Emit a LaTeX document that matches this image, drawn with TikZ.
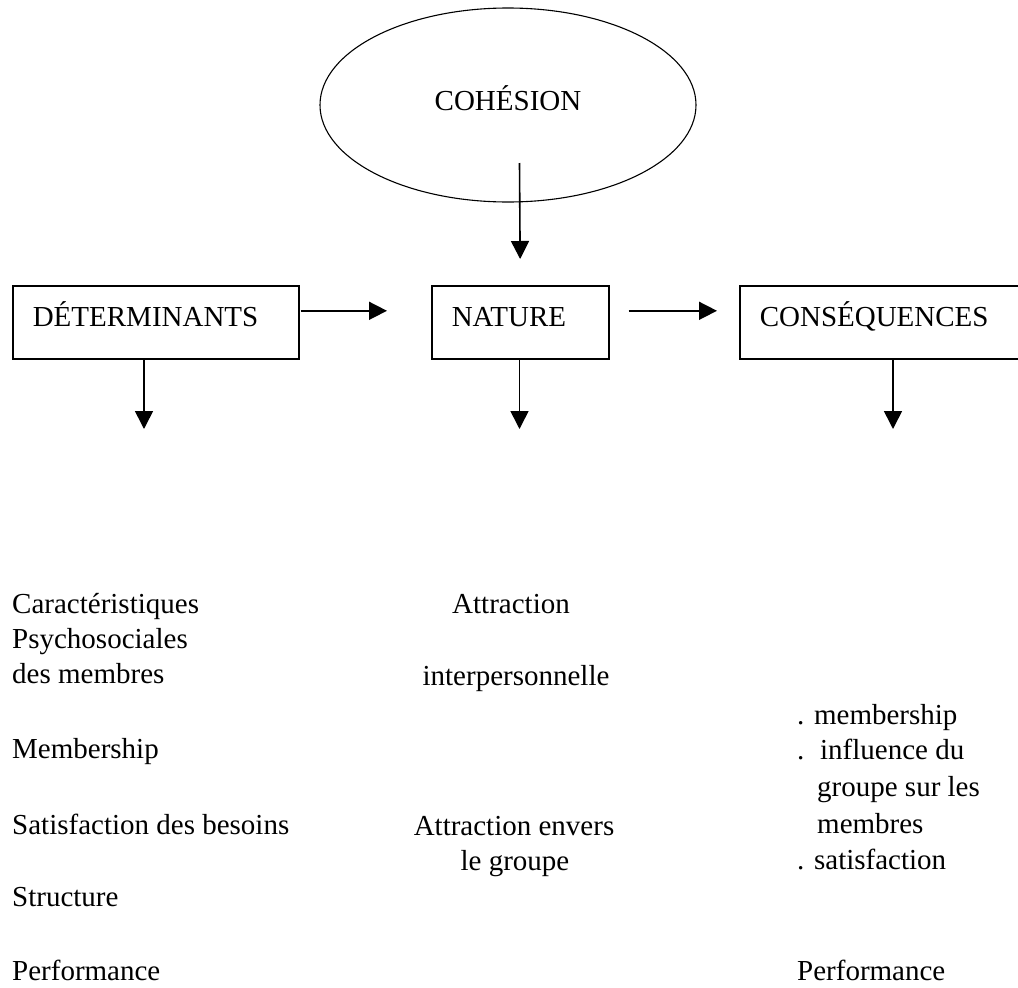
\documentclass[tikz,border=0pt]{standalone}
\usepackage{fontspec}
\setmainfont{Liberation Serif}
\usetikzlibrary{arrows.meta,shapes.geometric}

\tikzset{
  txt/.style={font=\fontsize{29pt}{35pt}\selectfont, inner sep=0pt},
  lbl/.style={txt, anchor=base west},
  mid/.style={txt, anchor=base},
  stagebox/.style={txt, draw, line width=1.6pt, anchor=north west,
    inner xsep=20pt, inner ysep=0pt, text height=41pt, text depth=32pt, align=left},
  arr/.style={line width=1.6pt, -{Triangle[length=18pt,width=18pt]}}
}

\begin{document}
\begin{tikzpicture}[x=1pt,y=-1pt]
  \useasboundingbox (0,0) rectangle (1018,988);
  \clip (0,0) rectangle (1018,988);

  % central concept
  \node[txt, draw, line width=1.1pt, ellipse, minimum width=376pt, minimum height=194pt,
        text height=15pt, text depth=5pt] (coh) at (508,105) {COHÉSION};

  % the three stages
  \node[stagebox, text width=246pt] (det) at (12,285) {DÉTERMINANTS};
  \node[stagebox, text width=137pt] (nat) at (431,285) {NATURE};
  \node[stagebox, text width=262pt] (cons) at (739,285) {CONSÉQUENCES};

  % arrow ends
  \coordinate (cohsrc) at (519.5,163);
  \coordinate (dettip) at (144,429);
  \coordinate (nattip) at (519.5,429);
  \coordinate (constip) at (893,429);

  % connectors
  \draw[arr, shorten >=26pt] (cohsrc) -- (nat.north);
  \draw[arr, shorten <=1pt, shorten >=44pt] ([yshift=11.5pt]det.east) -- ([yshift=11.5pt]nat.west);
  \draw[arr, shorten <=19pt, shorten >=22pt] ([yshift=11.5pt]nat.east) -- ([yshift=11.5pt]cons.west);
  \draw[arr] (det.south -| dettip) -- (dettip);
  \draw[arr] (nat.south -| nattip) -- (nattip);
  \draw[arr] (cons.south -| constip) -- (constip);

  % determinants
  \node[lbl] (d1) at (12,613) {Caractéristiques};
  \node[lbl] (d2) at (12,648) {Psychosociales};
  \node[lbl] (d3) at (12,683) {des membres};
  \node[lbl] (d4) at (12,758) {Membership};
  \node[lbl] (d5) at (12,834) {Satisfaction des besoins};
  \node[lbl] (d6) at (12,906) {Structure};
  \node[lbl] (d7) at (12,980) {Performance};

  % nature
  \node[mid] (n1) at (511,613) {Attraction};
  \node[mid] (n2) at (516,685) {interpersonnelle};
  \node[mid] (n3) at (514,835) {Attraction envers};
  \node[mid] (n4) at (515,870) {le groupe};

  % consequences
  \node[lbl] (c1) at (797,724) {. membership};
  \node[lbl] (c2) at (797,759) {.\hspace{6pt} influence du};
  \node[lbl] (c3) at (817,796) {groupe sur les};
  \node[lbl] (c4) at (817,833) {membres};
  \node[lbl] (c5) at (797,869) {. satisfaction};
  \node[lbl] (c6) at (797,980) {Performance};
\end{tikzpicture}
\end{document}
